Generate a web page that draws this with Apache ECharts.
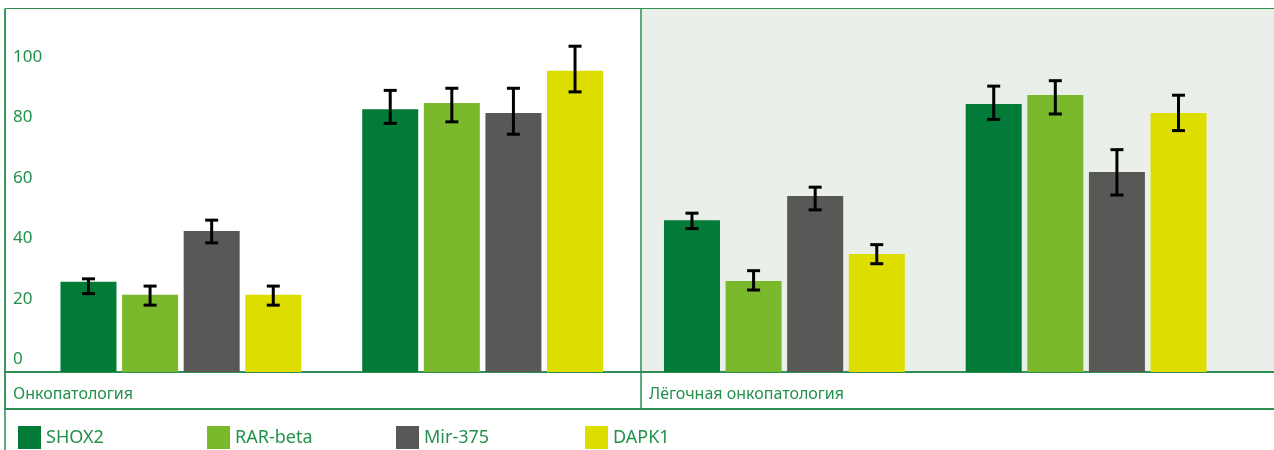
<!DOCTYPE html>
<html>
<head>
<meta charset="utf-8">
<script src="https://cdn.jsdelivr.net/npm/echarts@6/dist/echarts.min.js"></script>
<style>
html,body{margin:0;padding:0;background:#fff;}
#chart{width:1274px;height:450px;}
</style>
</head>
<body>
<div id="chart"></div>
<script>
// ---- data ----
var panels = ['Онкопатология', 'Лёгочная онкопатология', ''];
var groups = ['Группа 1', 'Группа 2', 'Группа 3', 'Группа 4'];
var seriesNames = ['SHOX2', 'RAR-beta', 'Mir-375', 'DAPK1'];
var yTicks = [0, 20, 40, 60, 80, 100, 120];

var shox2 = [29.8, 86.9, 50.2, 88.6];
var rarBeta = [25.5, 88.9, 30.1, 91.6];
var mir375 = [46.6, 85.6, 58.2, 66.1];
var dapk1 = [25.5, 99.6, 39.0, 85.6];

var shox2Low = [25.9, 82.2, 47.4, 83.5];
var shox2High = [30.8, 93.1, 52.5, 94.5];
var rarBetaLow = [22.1, 82.7, 27.1, 85.3];
var rarBetaHigh = [28.4, 93.8, 33.5, 96.3];
var mir375Low = [42.7, 78.6, 53.6, 58.5];
var mir375High = [50.2, 93.8, 61.1, 73.5];
var dapk1Low = [22.1, 92.6, 35.8, 79.8];
var dapk1High = [28.4, 107.7, 42.1, 91.5];

// ---- style ----
var colors = ['#027b39', '#7ab92c', '#585857', '#dedd00'];
var green = '#2f8f55';
var textGreen = '#23904c';
var font = 'Noto Sans';
var BAR_W = 56;
var PITCH = 61.6;

var values = [shox2, rarBeta, mir375, dapk1];
var lows = [shox2Low, rarBetaLow, mir375Low, dapk1Low];
var highs = [shox2High, rarBetaHigh, mir375High, dapk1High];

var chart = echarts.init(document.getElementById('chart'), null, {renderer: 'canvas'});

var series = [];
seriesNames.forEach(function (name, i) {
  series.push({
    name: name,
    type: 'bar',
    xAxisIndex: 2,
    yAxisIndex: 1,
    barWidth: BAR_W,
    barGap: '10%',
    itemStyle: {color: colors[i]},
    data: values[i],
    z: 3
  });
});
seriesNames.forEach(function (name, i) {
  var offset = (i - 1.5) * PITCH;
  series.push({
    name: name + ' error',
    type: 'custom',
    xAxisIndex: 2,
    yAxisIndex: 1,
    z: 5,
    data: groups.map(function (g, k) { return [k, lows[i][k], highs[i][k]]; }),
    encode: {x: 0, y: [1, 2]},
    renderItem: function (params, api) {
      var k = api.value(0);
      var pLow = api.coord([k, api.value(1)]);
      var pHigh = api.coord([k, api.value(2)]);
      var x = pLow[0] + offset;
      var st = {stroke: '#000', lineWidth: 3};
      return {
        type: 'group',
        children: [
          {type: 'line', shape: {x1: x, y1: pLow[1], x2: x, y2: pHigh[1]}, style: st},
          {type: 'line', shape: {x1: x - 6.5, y1: pLow[1], x2: x + 6.5, y2: pLow[1]}, style: st},
          {type: 'line', shape: {x1: x - 6.5, y1: pHigh[1], x2: x + 6.5, y2: pHigh[1]}, style: st}
        ]
      };
    }
  });
});

var legendLefts = [13, 202, 391, 580];
var legends = seriesNames.map(function (name, i) {
  return {
    data: [name],
    left: legendLefts[i],
    top: 421,
    icon: 'rect',
    itemWidth: 23,
    itemHeight: 23,
    selectedMode: false,
    textStyle: {color: textGreen, fontFamily: font, fontSize: 18, padding: [10, 0, 0, 0]}
  };
});

var option = {
  animation: false,
  backgroundColor: '#ffffff',
  legend: legends,
  grid: [
    {left: 5, width: 1272, top: 9, bottom: 78, containLabel: false, outerBoundsMode: 'none'},
    {left: 30, right: 37, top: 9, bottom: 78, containLabel: false, outerBoundsMode: 'none'}
  ],
  xAxis: [
    {
      gridIndex: 0,
      type: 'category',
      data: panels,
      boundaryGap: false,
      axisLine: {show: true, lineStyle: {color: green, width: 2}},
      axisTick: {show: true, length: 37, interval: 0, lineStyle: {color: green, width: 1.5}},
      axisLabel: {
        show: true, interval: 0, align: 'left', verticalAlign: 'top',
        margin: 14, padding: [0, 0, 0, 8],
        color: textGreen, fontFamily: font, fontSize: 16
      },
      splitLine: {show: true, interval: 0, lineStyle: {color: green, width: 1.5}},
      splitArea: {show: true, interval: 0, areaStyle: {color: ['#ffffff', '#eaefe9']}}
    },
    {
      gridIndex: 0,
      type: 'category',
      data: panels,
      position: 'bottom',
      offset: 37,
      axisLine: {show: true, lineStyle: {color: green, width: 2}},
      axisTick: {show: false},
      axisLabel: {show: false},
      splitLine: {show: false}
    },
    {
      gridIndex: 1,
      type: 'category',
      data: groups,
      show: false
    }
  ],
  yAxis: [
    {
      gridIndex: 0,
      type: 'value',
      min: yTicks[0],
      max: yTicks[yTicks.length - 1],
      interval: yTicks[1] - yTicks[0],
      axisLine: {show: true, lineStyle: {color: green, width: 1.5}},
      axisTick: {show: false},
      axisLabel: {
        inside: true, showMaxLabel: false, align: 'left', verticalAlign: 'bottom',
        margin: 8, padding: [0, 0, 4, 0],
        color: textGreen, fontFamily: font, fontSize: 17
      },
      splitLine: {show: true, lineStyle: {color: green, width: 2}}
    },
    {
      gridIndex: 1,
      type: 'value',
      min: yTicks[0],
      max: yTicks[yTicks.length - 1],
      show: false,
      splitLine: {show: false}
    }
  ],
  graphic: [
    {type: 'line', shape: {x1: 5, y1: 372, x2: 5, y2: 450}, style: {stroke: green, lineWidth: 1.5}, z: 10}
  ],
  series: series
};
chart.setOption(option);
</script>
</body>
</html>
